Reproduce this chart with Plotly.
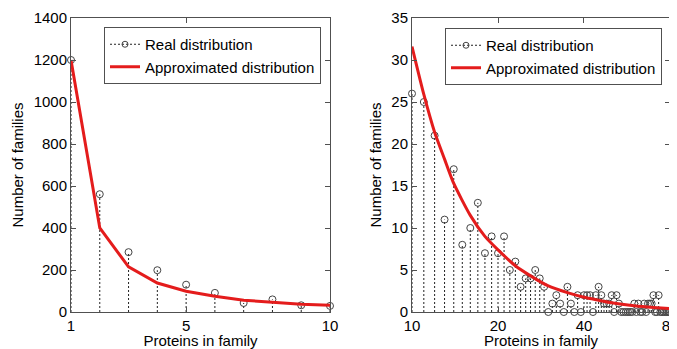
import plotly.graph_objects as go

# ---------------- data ----------------
# Left panel: family sizes 1..10
left_sizes = [1, 2, 3, 4, 5, 6, 7, 8, 9, 10]
left_real = [1200, 561, 285, 199, 130, 91, 43, 60, 32, 29]
left_approx = [1200, 400, 215, 138, 99, 75, 56, 47, 37, 32]

# Right panel: family sizes 10..80 (log x axis)
right_sizes = list(range(10, 81))
right_real = [26, 25, 21, 11, 17, 8, 10, 13, 7, 9,      # 10-19
              7, 9, 5, 6, 3, 4, 4, 5, 4, 3,             # 20-29
              0, 1, 2, 1, 0, 3, 1, 0, 2, 0,             # 30-39
              2, 2, 2, 0, 2, 3, 2, 1, 1, 1,             # 40-49
              2, 0, 2, 1, 0, 0, 0, 0, 0, 0,             # 50-59
              1, 0, 1, 0, 0, 1, 0, 1, 1, 1,             # 60-69
              2, 0, 0, 2, 0, 0, 0, 0, 0, 0,             # 70-79
              0]                                        # 80
right_approx_x = [10, 11, 12, 13, 14, 16, 18, 20, 23, 26, 30, 35, 40, 45, 50, 60, 70, 80]
right_approx_y = [31.6, 25.9, 21.4, 18.2, 15.3, 11.5, 9.0, 7.4, 5.5, 4.3, 3.1, 2.3, 1.75, 1.4, 1.1, 0.75, 0.55, 0.42]

left_yticks = [0, 200, 400, 600, 800, 1000, 1200, 1400]
left_xticks = [1, 5, 10]
right_yticks = [0, 5, 10, 15, 20, 25, 30, 35]
right_xticks = [10, 20, 40, 80]

# ---------------- styling ----------------
FONT = "Liberation Sans, Arial, sans-serif"
RED = "rgb(228,28,28)"
STEM = "#222222"
MARK = "#444444"
FRAME = "#505050"

# page body has an 8px margin: lay the figure out in window pixels minus that offset
OFF = 8
W, H = 677 - OFF, 349 - OFF


def px_x(p):
    return (p - OFF) / W


def px_y(p):
    return 1 - (p - OFF) / H


def stems(xs, ys):
    sx, sy = [], []
    for xv, yv in zip(xs, ys):
        sx += [xv, xv, None]
        sy += [0, yv, None]
    return sx, sy


fig = go.Figure()

panels = [
    ("x", "y", "legend", left_sizes, left_real, left_sizes, left_approx),
    ("x2", "y2", "legend2", right_sizes, right_real, right_approx_x, right_approx_y),
]

for xa, ya, lg, xs, ys, ax, ay in panels:
    sx, sy = stems(xs, ys)
    fig.add_trace(go.Scatter(x=sx, y=sy, mode="lines", xaxis=xa, yaxis=ya,
                             line=dict(color=STEM, width=1, dash="2px,2px"),
                             showlegend=False, hoverinfo="skip", cliponaxis=False))
    fig.add_trace(go.Scatter(x=xs, y=ys, mode="markers", xaxis=xa, yaxis=ya,
                             marker=dict(symbol="circle-open", size=7, color=MARK,
                                         line=dict(width=1, color=MARK)),
                             showlegend=False, cliponaxis=False))
    fig.add_trace(go.Scatter(x=ax, y=ay, mode="lines", xaxis=xa, yaxis=ya,
                             line=dict(color=RED, width=3, shape="spline",
                                       smoothing=0.6 if xa == "x2" else 0),
                             showlegend=False, cliponaxis=False))
    # legend entries
    fig.add_trace(go.Scatter(x=[None], y=[None], mode="lines+markers", xaxis=xa, yaxis=ya,
                             name="Real distribution", legend=lg,
                             line=dict(color=STEM, width=1, dash="2px,2px"),
                             marker=dict(symbol="circle-open", size=6, color=MARK,
                                         line=dict(width=1, color=MARK))))
    fig.add_trace(go.Scatter(x=[None], y=[None], mode="lines", xaxis=xa, yaxis=ya,
                             name="Approximated distribution", legend=lg,
                             line=dict(color=RED, width=3)))

axis_common = dict(showline=True, linecolor=FRAME, linewidth=1, mirror="ticks",
                   ticks="inside", ticklen=5, tickcolor=FRAME, showgrid=False,
                   zeroline=False, automargin=False, ticklabeloverflow="allow",
                   tickfont=dict(family=FONT, size=15, color="black"))

ydom = [px_y(312), px_y(18)]
title_font = dict(family=FONT, size=15, color="black")
legend_common = dict(xanchor="left", yanchor="top", bgcolor="white",
                     bordercolor=FRAME, borderwidth=1,
                     font=dict(family=FONT, size=15, color="black"),
                     itemwidth=30, tracegroupgap=0)

fig.update_layout(
    width=W, height=H,
    margin=dict(l=0, r=0, t=0, b=0),
    paper_bgcolor="white", plot_bgcolor="white",
    font=dict(family=FONT, size=15, color="black"),
    xaxis=dict(domain=[px_x(71), px_x(330)], range=[1, 10], tickvals=left_xticks,
               title=dict(text="Proteins in family", standoff=4, font=title_font),
               anchor="y", **axis_common),
    yaxis=dict(domain=ydom, range=[0, 1400], tickvals=left_yticks,
               title=dict(text="Number of families", standoff=6, font=title_font),
               anchor="x", **axis_common),
    xaxis2=dict(domain=[px_x(412), px_x(670)], type="log", range=[1, 1.90312],
                tickvals=right_xticks, ticktext=[str(v) for v in right_xticks],
                title=dict(text="Proteins in family", standoff=4, font=title_font),
                anchor="y2", **axis_common),
    yaxis2=dict(domain=ydom, range=[0, 35], tickvals=right_yticks,
                title=dict(text="Number of families", standoff=6, font=title_font),
                anchor="x2", **axis_common),
    legend=dict(x=px_x(104), y=px_y(27), **legend_common),
    legend2=dict(x=px_x(445), y=px_y(28), **legend_common),
)

fig.write_html("out.html")
